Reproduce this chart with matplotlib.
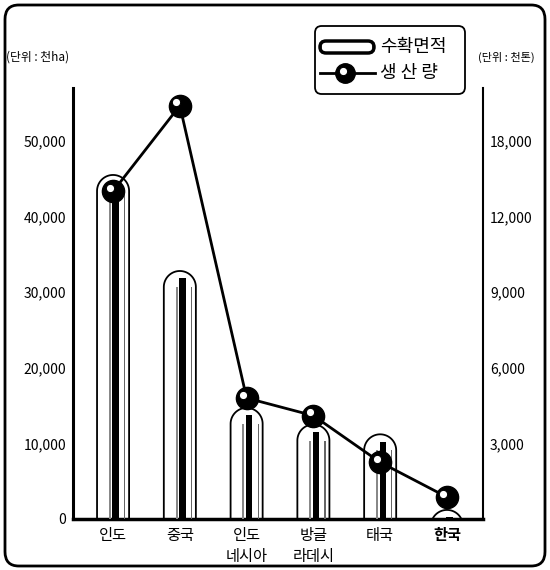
import matplotlib
matplotlib.use("Agg")
import numpy as np
import matplotlib.pyplot as plt
from matplotlib.patches import FancyBboxPatch, Polygon
from matplotlib.lines import Line2D
from matplotlib.transforms import offset_copy

plt.rcParams['font.family'] = ['Noto Sans CJK KR', 'DejaVu Sans']

countries = ["인도", "중국", "인도\n네시아", "방글\n라데시", "태국", "한국"]
area = [45500, 32800, 14700, 12500, 11200, 1200]          # 수확면적 (천ha)
production = [13000, 16400, 4800, 4100, 2250, 870]         # 생산량 (천톤)
left_ticks = [0, 10000, 20000, 30000, 40000, 50000]
right_ticks = [3000, 6000, 9000, 12000, 15000]
right_labels = ["3,000", "6,000", "9,000", "12,000", "18,000"]

W, H = 550, 570
fig = plt.figure(figsize=(5.5, 5.7), dpi=100)
ax = fig.add_axes([73 / W, 1 - 519 / H, (483 - 73) / W, (519 - 88) / H])
ax2 = ax.twinx()

x = list(range(len(countries)))
ax.set_xlim(-0.6, 5.54)
ax.set_ylim(0, 57000)
ax2.set_ylim(0, 57000 * 0.3)

# y units per x unit at equal pixel length (for round caps)
p0 = ax.transData.transform((0, 0))
p1 = ax.transData.transform((1, 10000))
aspect = (p1[0] - p0[0]) / ((p1[1] - p0[1]) / 10000)

bw = 0.48
bars = ax.bar(x, area, width=bw, color="none", edgecolor="none")
t = np.linspace(0, np.pi, 40)
for b in bars:
    x0, w, h = b.get_x(), b.get_width(), b.get_height()
    r = w / 2
    cx = x0 + r
    top = h - r * aspect          # where the round cap starts
    xs = np.concatenate([[x0], cx - r * np.cos(t), [x0 + w]])
    ys = np.concatenate([[-8000], top + r * aspect * np.sin(t), [-8000]])
    ax.add_patch(Polygon(np.column_stack([xs, ys]), closed=True,
                         facecolor="white", edgecolor="black",
                         linewidth=1.3, zorder=2))
    # shading stripes of the cylinder
    ax.bar(x0 + w * 0.58, max(top + r * aspect * 0.55, 0), width=w * 0.2,
           color="black", zorder=3)
    ax.bar(x0 + w * 0.40, max(top, 0), width=w * 0.06,
           color="#888888", zorder=3)
    ax.bar(x0 + w * 0.86, max(top, 0), width=w * 0.04,
           color="#666666", zorder=3)

# production line with balls
ax2.plot(x, production, color="black", linewidth=2, zorder=5)
ax2.plot(x, production, linestyle="none", marker="o", markersize=16,
         markerfacecolor="black", markeredgecolor="black", zorder=6)
hl = offset_copy(ax2.transData, fig=fig, x=-2.5, y=2.5, units="points")
ax2.plot(x, production, linestyle="none", marker="o", markersize=6,
         markerfacecolor="white", markeredgecolor="black",
         markeredgewidth=0.8, transform=hl, zorder=7)

# axes styling
for a in (ax, ax2):
    a.spines["top"].set_visible(False)
ax.spines["left"].set_linewidth(2.2)
ax.spines["bottom"].set_linewidth(2.5)
ax.spines["right"].set_visible(False)
ax2.spines["left"].set_visible(False)
ax2.spines["bottom"].set_visible(False)
ax2.spines["right"].set_linewidth(1.5)

ax.set_yticks(left_ticks)
ax.set_yticklabels(["{:,}".format(v) for v in left_ticks], fontsize=10)
ax.tick_params(axis="y", length=0, pad=5)
ax2.set_yticks(right_ticks)
ax2.set_yticklabels(right_labels, fontsize=10)
ax2.tick_params(axis="y", length=0, pad=5)

ax.set_xticks(x)
ax.set_xticklabels(countries, fontsize=11, linespacing=1.25)
ax.tick_params(axis="x", length=0, pad=6)
ax.get_xticklabels()[-1].set_fontweight("bold")

# unit labels
fig.text(6 / W, 1 - 57 / H, "(단위 : 천ha)", fontsize=8.5, va="center", ha="left")
fig.text(478 / W, 1 - 57 / H, "(단위 : 천톤)", fontsize=8, va="center", ha="left")


# legend
def fx(px):
    return px / W


def fy(py):
    return 1 - py / H


fig.patches.append(FancyBboxPatch((fx(315), fy(94)), fx(150), 68 / H,
                                  boxstyle="round,pad=0,rounding_size=0.012",
                                  transform=fig.transFigure, facecolor="white",
                                  edgecolor="black", linewidth=1.3))
fig.patches.append(FancyBboxPatch((fx(320), fy(53)), fx(54), 12 / H,
                                  boxstyle="round,pad=0,rounding_size=0.011",
                                  mutation_aspect=W / H,
                                  transform=fig.transFigure, facecolor="white",
                                  edgecolor="black", linewidth=2.5))
fig.lines.append(Line2D([fx(320), fx(375)], [fy(73), fy(73)], color="black",
                        linewidth=2, transform=fig.transFigure))
fig.lines.append(Line2D([fx(345)], [fy(73)], marker="o", markersize=14,
                        markerfacecolor="black", markeredgecolor="black",
                        transform=fig.transFigure))
fig.lines.append(Line2D([fx(343)], [fy(71)], marker="o", markersize=6,
                        markerfacecolor="white", markeredgecolor="black",
                        markeredgewidth=0.8, transform=fig.transFigure))
fig.text(fx(380), fy(47), "수확면적", fontsize=13, va="center", ha="left")
fig.text(fx(380), fy(73), "생 산 량", fontsize=13, va="center", ha="left")

# outer frame
fig.patches.append(FancyBboxPatch((fx(5), fy(566)), fx(540), 561 / H,
                                  boxstyle="round,pad=0,rounding_size=0.025",
                                  transform=fig.transFigure, facecolor="none",
                                  edgecolor="black", linewidth=2))

fig.savefig("out.png", dpi=100)
